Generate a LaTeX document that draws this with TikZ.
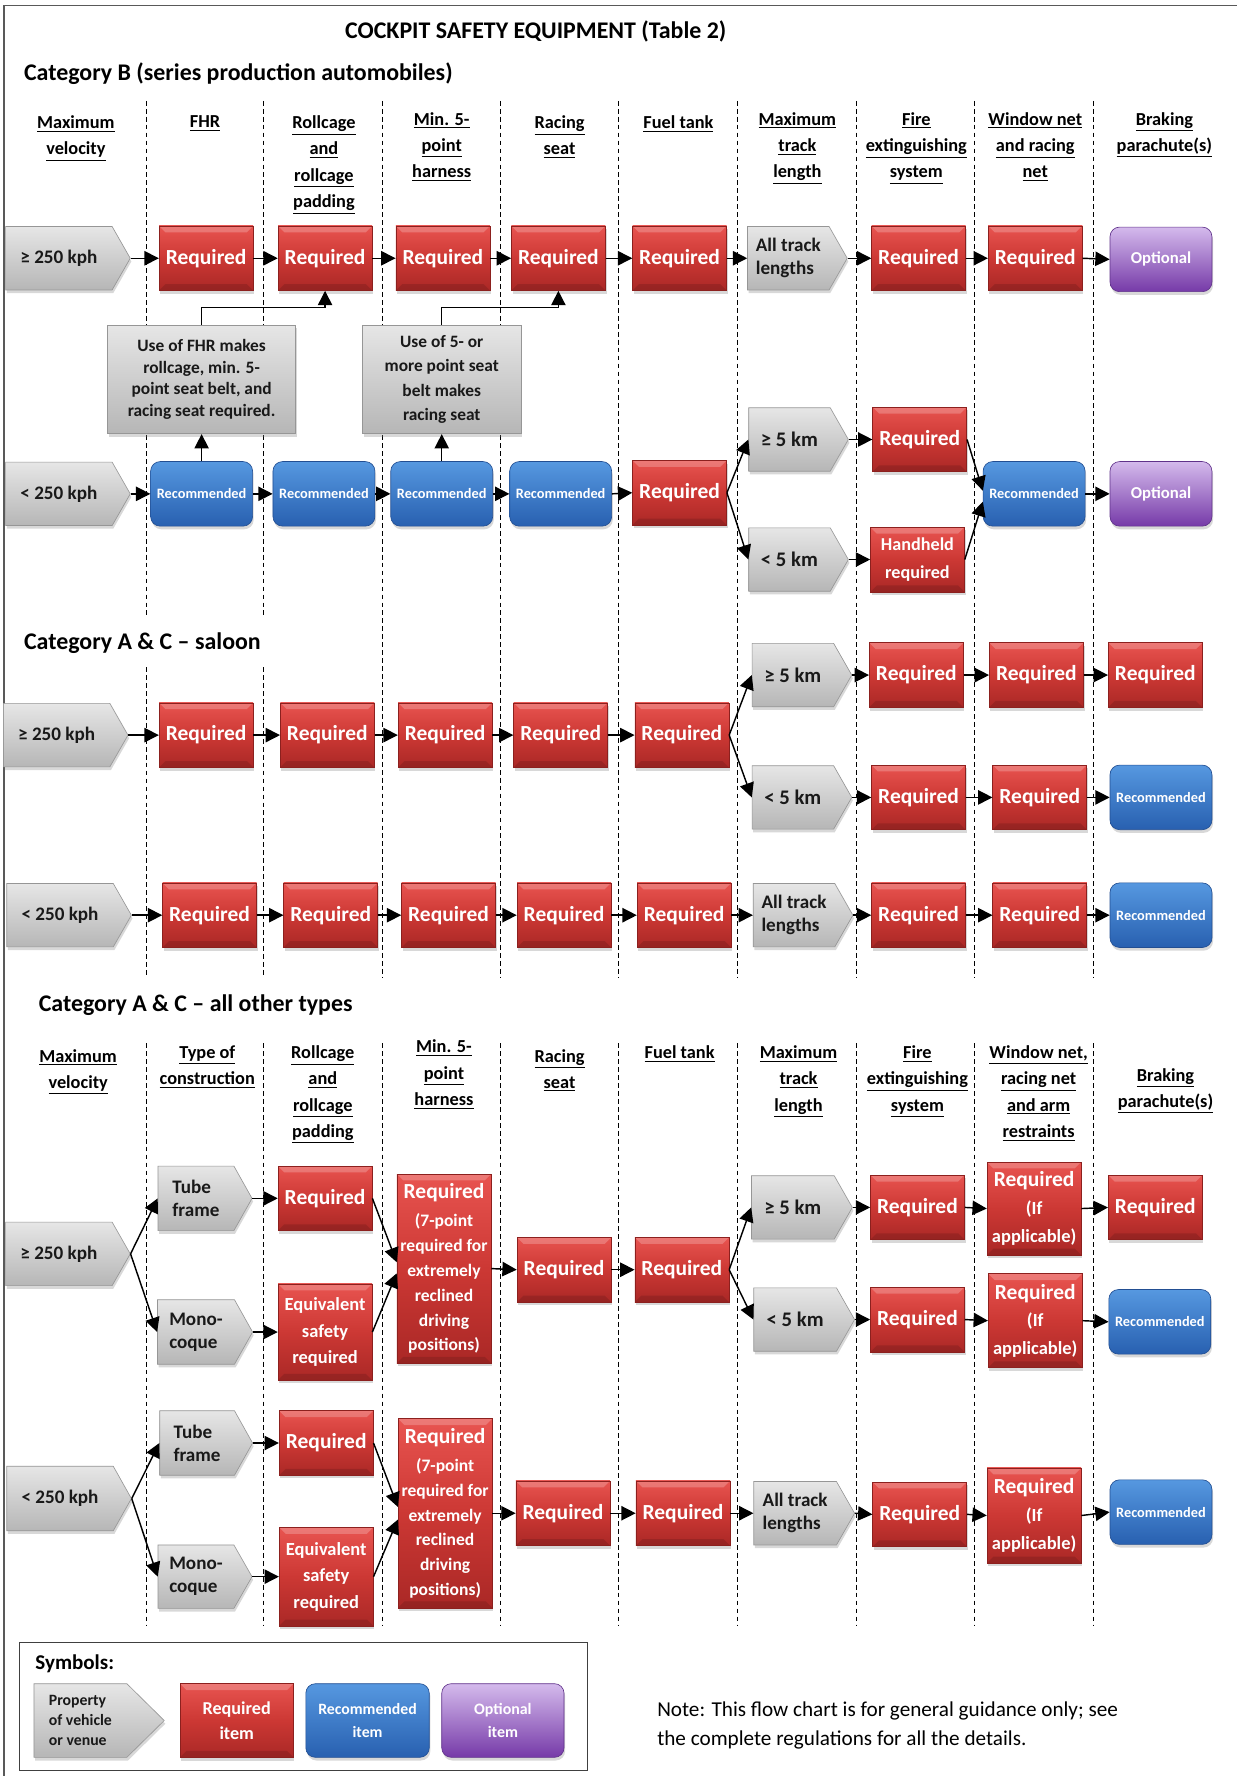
\documentclass[tikz,border=0pt]{standalone}
\usepackage{fontspec}
\setmainfont{Carlito}
\usepackage{tikz}
\usetikzlibrary{arrows.meta,shadows,positioning}

\definecolor{redtop}{RGB}{232,84,80}
\definecolor{redmid}{RGB}{204,56,52}
\definecolor{redbot}{RGB}{170,40,38}
\definecolor{redline}{RGB}{140,32,30}
\definecolor{bluetop}{RGB}{86,152,224}
\definecolor{bluebot}{RGB}{40,96,176}
\definecolor{blueline}{RGB}{34,78,146}
\definecolor{purtop}{RGB}{212,186,236}
\definecolor{purbot}{RGB}{118,58,168}
\definecolor{purline}{RGB}{96,50,138}
\definecolor{graytop}{RGB}{230,230,230}
\definecolor{graybot}{RGB}{182,182,182}
\definecolor{grayline}{RGB}{150,150,150}

\newcommand{\hd}[1]{\underline{#1}}
% gray property arrow: [depth]{name}{x}{y}{width}{height}{text}
\newcommand{\pent}[7][16]{%
  \path[propbox] (#3-#5/2,#4-#6/2) -- (#3+#5/2-#1,#4-#6/2) -- (#3+#5/2,#4)
    -- (#3+#5/2-#1,#4+#6/2) -- (#3-#5/2,#4+#6/2) -- cycle;
  \node[minimum width=#5*0.025cm, minimum height=#6*0.025cm, inner sep=0pt] (#2) at (#3,#4) {};
  \node[proptext] (#2t) at (#3-#1/2,#4) {#7};
}

\tikzset{
  flow/.style={-{Triangle[length=9pt,width=9pt]}, line width=0.9pt},
  colsep/.style={line width=0.6pt, dash pattern=on 3pt off 2pt},
  colhead/.style={anchor=north, align=center, inner sep=0pt, font=\bfseries\fontsize{11.5}{16.5}\selectfont},
  title/.style={inner sep=0pt, font=\bfseries\fontsize{15}{18}\selectfont},
  shady/.style={drop shadow={shadow xshift=0.7pt, shadow yshift=-2pt, opacity=0.3}},
  wide/.style={minimum width=#1*0.025cm},
  tall/.style={minimum height=#1*0.025cm},
  bevel/.style={path picture={
    \fill[white, opacity=0.22] (path picture bounding box.north west) -- (path picture bounding box.north east)
      -- ([shift={(-4pt,-4pt)}]path picture bounding box.north east) -- ([shift={(4pt,-4pt)}]path picture bounding box.north west) -- cycle;
    \fill[black, opacity=0.12] (path picture bounding box.south west) -- (path picture bounding box.south east)
      -- ([shift={(-4pt,4pt)}]path picture bounding box.south east) -- ([shift={(4pt,4pt)}]path picture bounding box.south west) -- cycle;
  }},
  req/.style={rectangle, top color=redtop, bottom color=redbot, middle color=redmid, draw=redline,
    shady, bevel, text=white, align=center, inner sep=1pt, wide=83, tall=57,
    font=\bfseries\fontsize{13.5}{16}\selectfont},
  rec/.style={rectangle, rounded corners=6pt, top color=bluetop, bottom color=bluebot, draw=blueline,
    shady, text=white, align=center, inner sep=1pt, wide=90, tall=57,
    font=\bfseries\fontsize{9}{11}\selectfont},
  opt/.style={rectangle, rounded corners=6pt, top color=purtop, bottom color=purbot, draw=purline,
    shady, text=white, align=center, inner sep=1pt, wide=90, tall=57,
    font=\bfseries\fontsize{10.5}{13}\selectfont},
  propbox/.style={top color=graytop, bottom color=graybot, draw=grayline, shady},
  proptext/.style={align=left, inner sep=0pt, text=black!90, font=\bfseries\fontsize{12}{14.5}\selectfont},
  remark/.style={rectangle, top color=graytop, bottom color=graybot, draw=grayline, shady,
    align=center, inner sep=1pt, text=black!90},
}

\begin{document}
\begin{tikzpicture}[x=0.025cm, y=-0.025cm]
\useasboundingbox (0,0) rectangle (1092,1568);
\fill[white] (0,0) rectangle (1092,1568);
\draw[black!65, line width=0.8pt] (3.5,1568) -- (3.5,5) -- (1092,5);

% titles
\node[title] (ttl) at (473,28) {COCKPIT SAFETY EQUIPMENT (Table 2)};
\node[title, anchor=west] (catB) at (21,65) {Category B (series production automobiles)};
\node[title, anchor=west] (catS) at (21,568) {Category A \& C – saloon};
\node[title, anchor=west] (catO) at (34,887) {Category A \& C – all other types};

% column separators
\foreach \x in {129,233} {
  \draw[colsep] (\x,89) -- (\x,545);
  \draw[colsep] (\x,589) -- (\x,863);
}
\foreach \x in {338,442,546,651,756,860,965}
  \draw[colsep] (\x,89) -- (\x,863);
\foreach \x in {129,233,338,442,546,651,756,860,965}
  \draw[colsep] (\x,921) -- (\x,1435);

% headers, category B
\node[colhead] (hb0) at (67,102) {\hd{Maximum}\\\hd{velocity}};
\node[colhead] (hb1) at (181,102) {\hd{FHR}};
\node[colhead] (hb2) at (286,102) {\hd{Rollcage}\\\hd{and}\\\hd{rollcage}\\\hd{padding}};
\node[colhead] (hb3) at (390,99) {\hd{Min. 5-}\\\hd{point}\\\hd{harness}};
\node[colhead] (hb4) at (494,102) {\hd{Racing}\\\hd{seat}};
\node[colhead] (hb5) at (599,102) {\hd{Fuel tank}};
\node[colhead] (hb6) at (704,99) {\hd{Maximum}\\\hd{track}\\\hd{length}};
\node[colhead] (hb7) at (809,99) {\hd{Fire}\\\hd{extinguishing}\\\hd{system}};
\node[colhead] (hb8) at (914,99) {\hd{Window net}\\\hd{and racing}\\\hd{net}};
\node[colhead] (hb9) at (1028,99) {\hd{Braking}\\\hd{parachute(s)}};

% category B, >= 250 kph
\pent{ba0}{60}{228}{110}{56}{≥ 250 kph}
\foreach \n/\x in {ba1/182,ba2/287,ba3/391,ba4/493,ba5/600,ba7/811,ba8/914}
  \node[req] (\n) at (\x,228) {Required};
\pent{ba6}{704}{228}{88}{56}{All track\\lengths}
\node[opt] (ba9) at (1025,229) {Optional};

% remarks
\node[remark, wide=166, tall=96, font=\bfseries\fontsize{10.9}{13.5}\selectfont] (remA) at (178,335)
  {Use of FHR makes\\rollcage, min. 5-\\point seat belt, and\\racing seat required.};
\node[remark, wide=140, tall=96, font=\bfseries\fontsize{10.9}{15.2}\selectfont] (remB) at (390,335)
  {Use of 5- or\\more point seat\\belt makes\\racing seat};

% category B, < 250 kph
\pent{bb0}{60}{436}{110}{56}{< 250 kph}
\foreach \n/\x in {bb1/178,bb2/286,bb3/390,bb4/495,bb8/913}
  \node[rec] (\n) at (\x,436) {Recommended};
\node[req] (bb5) at (600,435) {Required};
\pent{bbu6}{705}{388}{88}{56}{{\fontsize{13}{15}\selectfont ≥ 5 km}}
\pent{bbl6}{705}{494}{88}{56}{{\fontsize{13}{15}\selectfont < 5 km}}
\node[req] (bbu7) at (812,388) {Required};
\node[req, font=\bfseries\fontsize{11.4}{17}\selectfont] (bbl7) at (810,494) {Handheld\\required};
\node[opt] (bb9) at (1025,436) {Optional};

% saloon, >= 250 kph
\pent{sa0}{58}{649}{110}{56}{≥ 250 kph}
\foreach \n/\x in {sa1/182,sa2/289,sa3/393,sa4/495,sa5/602}
  \node[req] (\n) at (\x,649) {Required};
\pent{sau6}{708}{596}{88}{56}{{\fontsize{13}{15}\selectfont ≥ 5 km}}
\pent{sal6}{708}{704}{88}{56}{{\fontsize{13}{15}\selectfont < 5 km}}
\foreach \n/\x in {sau7/809,sau8/915,sau9/1020}
  \node[req] (\n) at (\x,596) {Required};
\foreach \n/\x in {sal7/811,sal8/918}
  \node[req] (\n) at (\x,704) {Required};
\node[rec] (sal9) at (1025,704) {Recommended};

% saloon, < 250 kph
\pent{sb0}{61}{808}{110}{56}{< 250 kph}
\foreach \n/\x in {sb1/185,sb2/292,sb3/396,sb4/498,sb5/604,sb7/811,sb8/918}
  \node[req] (\n) at (\x,808) {Required};
\pent{sb6}{709}{808}{88}{56}{All track\\lengths}
\node[rec] (sb9) at (1025,808) {Recommended};

% headers, all other types
\node[colhead] (hc0) at (69,926) {\hd{Maximum}\\\hd{velocity}};
\node[colhead] (hc1) at (183,923) {\hd{Type of}\\\hd{construction}};
\node[colhead] (hc2) at (285,923) {\hd{Rollcage}\\\hd{and}\\\hd{rollcage}\\\hd{padding}};
\node[colhead] (hc3) at (392,918) {\hd{Min. 5-}\\\hd{point}\\\hd{harness}};
\node[colhead] (hc4) at (494,926) {\hd{Racing}\\\hd{seat}};
\node[colhead] (hc5) at (600,923) {\hd{Fuel tank}};
\node[colhead] (hc6) at (705,923) {\hd{Maximum}\\\hd{track}\\\hd{length}};
\node[colhead] (hc7) at (810,923) {\hd{Fire}\\\hd{extinguishing}\\\hd{system}};
\node[colhead] (hc8) at (917,923) {\hd{Window net,}\\\hd{racing net}\\\hd{and arm}\\\hd{restraints}};
\node[colhead] (hc9) at (1029,943) {\hd{Braking}\\\hd{parachute(s)}};

% all other types, >= 250 kph
\pent{ca0}{60}{1107}{110}{56}{≥ 250 kph}
\pent{caT}{181}{1058}{83}{57}{Tube\\frame}
\pent{caM}{181}{1176}{84}{57}{Mono-\\coque}
\node[req] (ca2) at (287,1058) {Required};
\node[req, tall=85, font=\bfseries\fontsize{11.6}{16.7}\selectfont] (caE) at (287,1176) {Equivalent\\safety\\required};
\node[req, tall=167, font=\bfseries\fontsize{11}{15.6}\selectfont] (ca3) at (392,1120)
  {{\fontsize{13.5}{16}\selectfont Required}\\[2pt](7-point\\required for\\extremely\\reclined\\driving\\positions)};
\node[req] (ca4) at (498,1121) {Required};
\node[req] (ca5) at (602,1121) {Required};
\pent{cau6}{708}{1066}{89}{56}{{\fontsize{13}{15}\selectfont ≥ 5 km}}
\pent{cal6}{710}{1165}{89}{56}{{\fontsize{13}{15}\selectfont < 5 km}}
\node[req] (cau7) at (810,1066) {Required};
\node[req] (cal7) at (810,1165) {Required};
\node[req, tall=82, font=\bfseries\fontsize{11.6}{17.4}\selectfont] (cau8) at (913,1067)
  {{\fontsize{13.5}{16}\selectfont Required}\\(If\\applicable)};
\node[req, tall=83, font=\bfseries\fontsize{11.6}{17.4}\selectfont] (cal8) at (914,1166)
  {{\fontsize{13.5}{16}\selectfont Required}\\(If\\applicable)};
\node[req] (cau9) at (1020,1066) {Required};
\node[rec] (cal9) at (1024,1167) {Recommended};

% all other types, < 250 kph
\pent{cb0}{61}{1323}{110}{57}{< 250 kph}
\pent{cbT}{182}{1274}{82}{57}{Tube\\frame}
\pent{cbM}{181}{1392}{83}{56}{Mono-\\coque}
\node[req] (cb2) at (288,1274) {Required};
\node[req, tall=87, font=\bfseries\fontsize{11.6}{16.7}\selectfont] (cbE) at (288,1392) {Equivalent\\safety\\required};
\node[req, tall=167, font=\bfseries\fontsize{11}{15.6}\selectfont] (cb3) at (393,1336)
  {{\fontsize{13.5}{16}\selectfont Required}\\[2pt](7-point\\required for\\extremely\\reclined\\driving\\positions)};
\node[req] (cb4) at (497,1336) {Required};
\node[req] (cb5) at (603,1336) {Required};
\pent{cb6}{710}{1336}{89}{56}{All track\\lengths}
\node[req] (cb7) at (812,1337) {Required};
\node[req, tall=84, font=\bfseries\fontsize{11.6}{17.4}\selectfont] (cb8) at (913,1338)
  {{\fontsize{13.5}{16}\selectfont Required}\\(If\\applicable)};
\node[rec] (cb9) at (1025,1335) {Recommended};

% connectors
\foreach \a/\b in {ba0/ba1,ba1/ba2,ba2/ba3,ba3/ba4,ba4/ba5,ba5/ba6,ba6/ba7,ba7/ba8,ba8/ba9,
    bb0/bb1,bb1/bb2,bb2/bb3,bb3/bb4,bb4/bb5,bb5/bbu6,bb5/bbl6,bbu6/bbu7,bbl6/bbl7,bb8/bb9,
    sa0/sa1,sa1/sa2,sa2/sa3,sa3/sa4,sa4/sa5,sa5/sau6,sa5/sal6,sau6/sau7,sau7/sau8,sau8/sau9,
    sal6/sal7,sal7/sal8,sal8/sal9,
    sb0/sb1,sb1/sb2,sb2/sb3,sb3/sb4,sb4/sb5,sb5/sb6,sb6/sb7,sb7/sb8,sb8/sb9,
    ca0/caT,ca0/caM,caT/ca2,caM/caE,ca3/ca4,ca4/ca5,ca5/cau6,ca5/cal6,
    cau6/cau7,cau7/cau8,cau8/cau9,cal6/cal7,cal7/cal8,cal8/cal9,
    cb0/cbT,cb0/cbM,cbT/cb2,cbM/cbE,cb3/cb4,cb4/cb5,cb5/cb6,cb6/cb7,cb7/cb8,cb8/cb9}
  \draw[flow] (\a.east) -- (\b.west);
\draw[flow] (bbu7.east) -- ([yshift=2pt]bb8.west);
\draw[flow] (bbl7.east) -- ([yshift=-5pt]bb8.west);
\draw[flow] (ca2.east) -- ([yshift=4pt]ca3.west);
\draw[flow] (caE.east) -- ([yshift=-3pt]ca3.west);
\draw[flow] (cb2.east) -- ([yshift=4pt]cb3.west);
\draw[flow] (cbE.east) -- ([yshift=-4pt]cb3.west);
\draw[flow] (bb1.north) -- (remA.south);
\draw[flow] (bb3.north) -- (remB.south);
\draw[flow] (remA.north) -- ++(0,-15) -| (ba2.south);
\draw[flow] (remB.north) -- ++(0,-15) -| (ba4.south);

% symbols
\draw[black!75, line width=0.8pt] (17.5,1450) rectangle (519,1563);
\node[title, anchor=west, font=\bfseries\fontsize{13.2}{16}\selectfont] (sym) at (31,1469) {Symbols:};
\begin{scope}[proptext/.append style={font=\bfseries\fontsize{9.9}{12.3}\selectfont}]
\pent[33]{lgP}{87.5}{1519}{115}{65}{Property\\of vehicle\\or venue}
\end{scope}
\node[req, wide=100, tall=65, font=\bfseries\fontsize{11.4}{16}\selectfont] (lgR) at (209,1519) {Required\\item};
\node[rec, wide=109, tall=65, font=\bfseries\fontsize{9.9}{14.5}\selectfont] (lgB) at (324.5,1519) {Recommended\\item};
\node[opt, wide=108, tall=65, font=\bfseries\fontsize{10}{14.5}\selectfont] (lgO) at (444,1519) {Optional\\item};

\node[anchor=north west, align=left, inner sep=0pt, font=\fontsize{13.3}{18.4}\selectfont] (note) at (580,1502)
  {Note: This flow chart is for general guidance only; see\\the complete regulations for all the details.};
\end{tikzpicture}
\end{document}
